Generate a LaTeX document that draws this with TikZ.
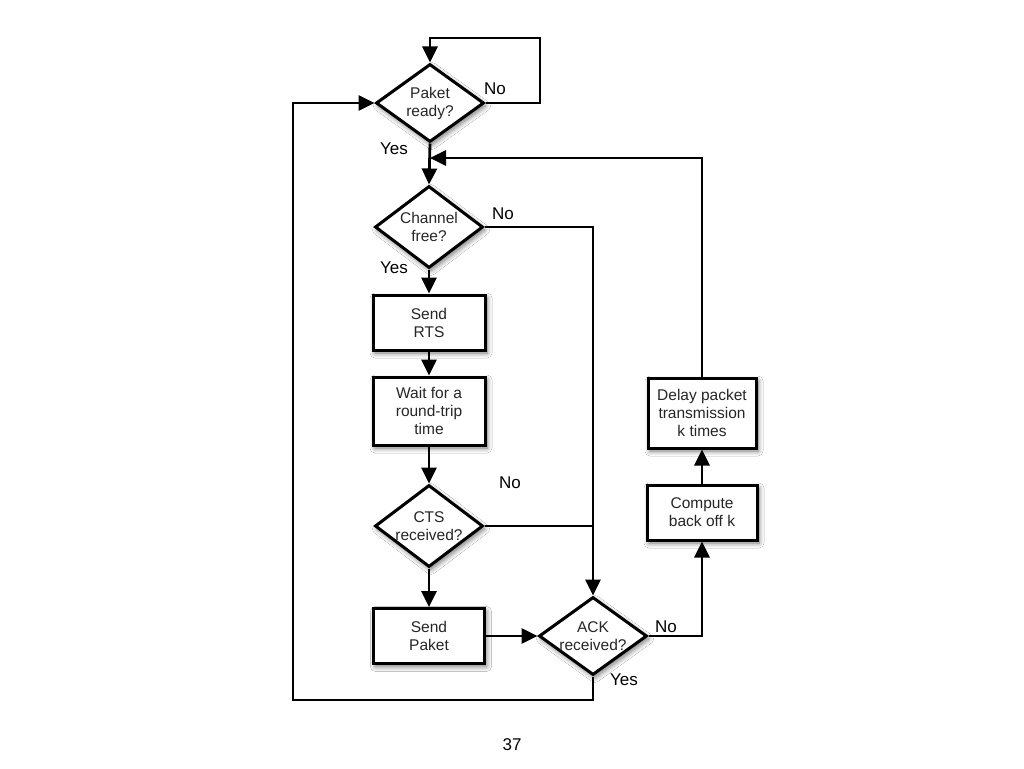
\documentclass[tikz,border=0pt]{standalone}
\usepackage{fontspec}
\setmainfont{Liberation Sans}
\usetikzlibrary{shapes.geometric,arrows.meta,shadows.blur}
\begin{document}
\begin{tikzpicture}[x=1pt,y=-1pt,
  shd/.style={blur shadow={shadow xshift=2pt,shadow yshift=-3pt,shadow opacity=55,shadow blur steps=8,shadow blur radius=5pt}},
  dec/.style={diamond,draw,line width=3pt,fill=white,shd,shape aspect=1.4,inner sep=0pt,
    minimum width=108pt,minimum height=78pt,align=center,font=\fontsize{15.5}{18}\selectfont,text=black!85},
  proc/.style={rectangle,draw,line width=3pt,fill=white,shd,inner sep=0pt,align=center,
    font=\fontsize{15.5}{18}\selectfont,text=black!85},
  arr/.style={line width=2.8pt,-{Triangle[length=16pt,width=15pt]}},
  ln/.style={line width=2.8pt},
  lab/.style={font=\fontsize{17}{20}\selectfont,inner sep=0pt}]
\useasboundingbox[fill=white] (0,0) rectangle (1024,768);

% nodes
\node[dec] (p1) at (430,103) {Paket\\ready?};
\node[dec,minimum height=82pt] (ch) at (429,227) {Channel\\free?};
\node[proc,minimum width=112pt,minimum height=55pt] (rts) at (429,322.5) {Send\\RTS};
\node[proc,minimum width=112pt,minimum height=68pt] (wt) at (429,411) {Wait for a\\round-trip\\time};
\node[dec,minimum height=82pt] (cts) at (429,526) {CTS\\received?};
\node[proc,minimum width=111pt,minimum height=55pt] (sp) at (429,636) {Send\\Paket};
\node[dec] (ack) at (593,636) {ACK\\received?};
\node[proc,minimum width=110pt,minimum height=55pt] (cb) at (702,512.5) {Compute\\back off k};
\node[proc,minimum width=108pt,minimum height=70pt] (dl) at (702,413) {Delay packet\\transmission\\k times};

% helper coordinates
\coordinate (tl) at (540,38);
\coordinate (bl) at (293,700);
\coordinate (j) at (430,158);

% connectors
\draw[arr] (p1.east) -| (tl) -| (p1.north);
\draw[arr] (ack.south) |- (bl) |- (p1.west);
\draw[arr] (p1.south) -- (ch.north);
\draw[arr] (dl.north) |- (j);
\draw[arr] (ch.east) -| (ack.north);
\draw[arr] (ch.south) -- (rts.north);
\draw[arr] (rts.south) -- (wt.north);
\draw[arr] (wt.south) -- (cts.north);
\draw[arr] (cts.south) -- (sp.north);
\draw[ln] (cts.east) -- (cts.east -| ack.north);
\draw[arr] (sp.east) -- (ack.west);
\draw[arr] (ack.east) -| (cb.south);
\draw[arr] (cb.north) -- (dl.south);

% labels
\node[lab] (l1) at (495,89) {No};
\node[lab] (l2) at (394,149) {Yes};
\node[lab] (l3) at (503,214) {No};
\node[lab] (l4) at (394,268) {Yes};
\node[lab] (l5) at (510,483) {No};
\node[lab] (l6) at (666,627) {No};
\node[lab] (l7) at (624,680) {Yes};
\node[lab] (pg) at (512,745) {37};
\end{tikzpicture}
\end{document}
